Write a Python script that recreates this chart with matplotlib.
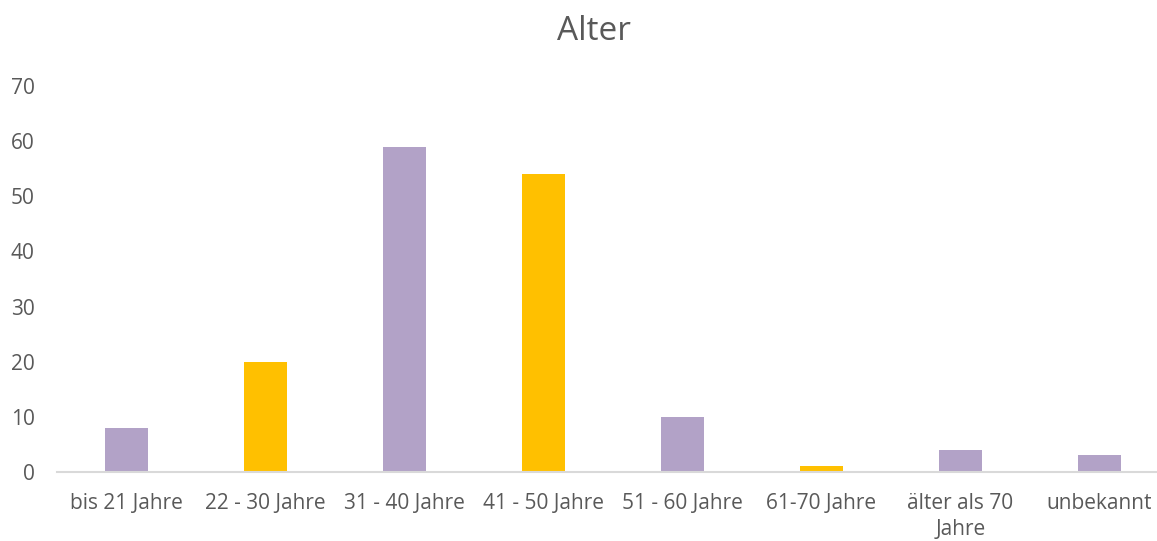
import matplotlib
matplotlib.use("Agg")
import matplotlib.pyplot as plt

categories = ["bis 21 Jahre", "22 - 30 Jahre", "31 - 40 Jahre", "41 - 50 Jahre",
              "51 - 60 Jahre", "61-70 Jahre", "älter als 70\nJahre", "unbekannt"]
values = [8, 20, 59, 54, 10, 1, 4, 3]
colors = ["#B2A2C7", "#FFC000", "#B2A2C7", "#FFC000",
          "#B2A2C7", "#FFC000", "#B2A2C7", "#B2A2C7"]
yticks = [0, 10, 20, 30, 40, 50, 60, 70]

plt.rcParams['font.family'] = ['Open Sans', 'DejaVu Sans']
fig = plt.figure(figsize=(11.57, 5.41), dpi=100)
ax = fig.add_axes([57/1157, 69/541, 1112/1157, 386/541])
x = list(range(len(categories)))
ax.bar(x, values, width=0.31, color=colors)
ax.set_xlim(-0.5, len(categories) - 0.5)
ax.set_ylim(0, 70)
ax.set_yticks(yticks)
ax.set_xticks(x)
ax.set_xticklabels(categories, linespacing=1.3)
for s in ["top", "right", "left"]:
    ax.spines[s].set_visible(False)
ax.spines["bottom"].set_color("#D9D9D9")
ax.spines["bottom"].set_linewidth(1.5)
ax.tick_params(axis="both", length=0, labelsize=15, colors="#595959")
ax.tick_params(axis="y", pad=16)
ax.tick_params(axis="x", pad=15)
fig.text(594/1157, 1 - 32/541, "Alter", ha="center", va="center", fontsize=24, color="#595959")
fig.savefig("out.png", dpi=100)
